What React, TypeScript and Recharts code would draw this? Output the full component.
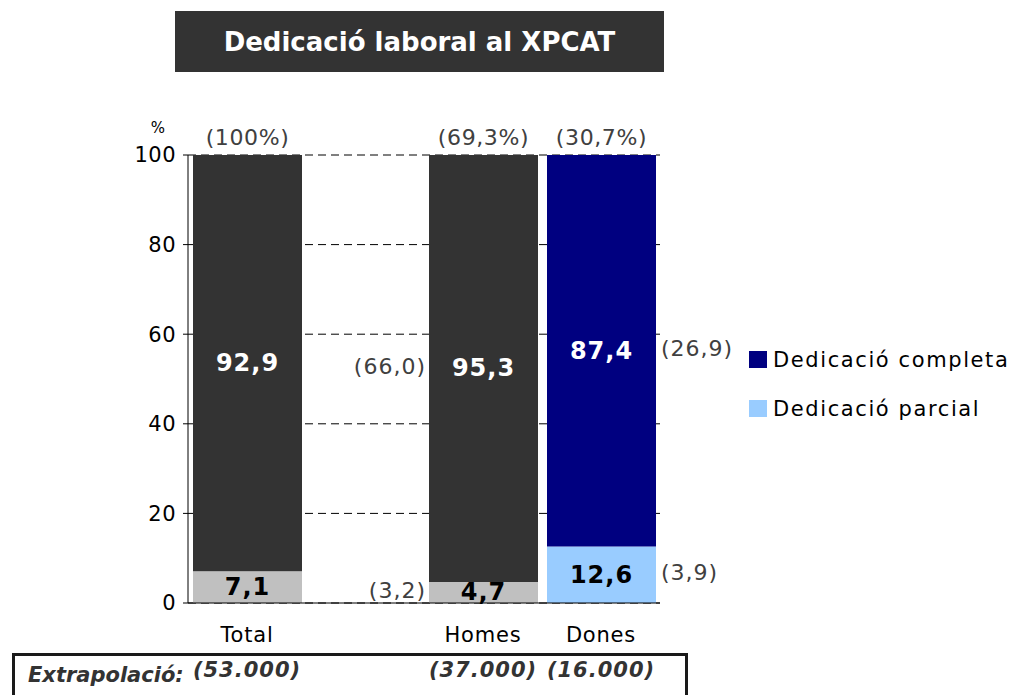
import { BarChart, Bar, XAxis, YAxis, CartesianGrid, LabelList, Cell } from "recharts";

// categories (the empty one is the gap between Total and Homes)
const categories = ["Total", "", "Homes", "Dones"];
const completa = [92.9, null, 95.3, 87.4];
const parcial = [7.1, null, 4.7, 12.6];
const shareLabels = ["(100%)", "", "(69,3%)", "(30,7%)"];
const completaCounts = ["", "", "(66,0)", "(26,9)"];
const parcialCounts = ["", "", "(3,2)", "(3,9)"];
const extrapolacio = ["(53.000)", "", "(37.000)", "(16.000)"];
const yTicks = [0, 20, 40, 60, 80, 100];

const completaColors = ["#333333", "#333333", "#333333", "#000080"];
const parcialColors = ["#c0c0c0", "#c0c0c0", "#c0c0c0", "#99ccff"];

const series = [
  { key: "completa", name: "Dedicació completa", color: "#000080" },
  { key: "parcial", name: "Dedicació parcial", color: "#99ccff" },
];

const data = categories.map((name, i) => ({
  name,
  completa: completa[i],
  parcial: parcial[i],
}));

const FONT = "'DejaVu Sans', Verdana, sans-serif";
const fmt = (v: number) => v.toFixed(1).replace(".", ",");

const makeLabel =
  (values: (number | null)[], counts: string[], textFill: string, withShare: boolean) =>
  (props: any) => {
    const vb = props.viewBox ?? props;
    const x = vb.x ?? props.x;
    const y = vb.y ?? props.y;
    const width = vb.width ?? props.width;
    const height = vb.height ?? props.height;
    // label index skips the empty category, so find the row by its value
    const raw = Array.isArray(props.value) ? props.value[1] - props.value[0] : Number(props.value);
    let index = values.findIndex((v) => v != null && Math.abs(v - raw) < 1e-6);
    if (index < 0) index = props.index;
    const v = values[index];
    if (v == null) return null;
    const cx = x + width / 2;
    const cy = y + height / 2;
    const right = index === categories.length - 1;
    return (
      <g>
        <text
          x={cx}
          y={cy}
          textAnchor="middle"
          dominantBaseline="central"
          fill={textFill}
          fontWeight="bold"
          fontSize={24}
          style={{ letterSpacing: 1 }}
        >
          {fmt(v)}
        </text>
        {counts[index] && (
          <text
            x={right ? x + width + 5 : x - 3}
            y={cy - 2}
            textAnchor={right ? "start" : "end"}
            dominantBaseline="central"
            fill="#404040"
            fontSize={22}
            style={{ letterSpacing: 1 }}
          >
            {counts[index]}
          </text>
        )}
        {withShare && shareLabels[index] && (
          <text
            x={cx}
            y={y - 10}
            textAnchor="middle"
            fill="#404040"
            fontSize={22}
            style={{ letterSpacing: 0.6 }}
          >
            {shareLabels[index]}
          </text>
        )}
      </g>
    );
  };

export default function App() {
  return (
    <div style={{ position: "absolute", left: 0, top: 0, width: 1012, height: 695, overflow: "hidden", fontFamily: FONT, background: "#fff" }}>
      {/* title box */}
      <div
        style={{
          position: "absolute",
          left: 175,
          top: 11,
          width: 489,
          height: 61,
          background: "#333333",
          color: "#fff",
          fontWeight: "bold",
          fontSize: 26,
          display: "flex",
          alignItems: "center",
          justifyContent: "center",
        }}
      >
        Dedicació laboral al XPCAT
      </div>

      {/* extrapolation box */}
      <div
        style={{
          position: "absolute",
          left: 12,
          top: 653,
          width: 670,
          height: 60,
          border: "3px solid #1a1a1a",
        }}
      >
        <span
          style={{
            position: "absolute",
            left: 13,
            top: 7,
            fontSize: 21,
            fontWeight: "bold",
            fontStyle: "italic",
            color: "#333",
          }}
        >
          Extrapolació:
        </span>
      </div>

      <div style={{ position: "absolute", left: 0, top: 0 }}>
        <BarChart
          width={1012}
          height={695}
          data={data}
          margin={{ top: 155, right: 352, bottom: 0, left: 128 }}
          barSize={109}
        >
          <CartesianGrid vertical={false} stroke="#000" strokeDasharray="8 5" />
          <XAxis
            dataKey="name"
            height={50}
            interval={0}
            tickLine={false}
            tickSize={0}
            tickMargin={24}
            axisLine={{ stroke: "#000" }}
            tick={{ fill: "#000", fontSize: 21, style: { letterSpacing: 0.8 } }}
          />
          <XAxis
            xAxisId="ext"
            dataKey="name"
            height={42}
            interval={0}
            axisLine={false}
            tickLine={false}
            tickSize={0}
            tickMargin={9}
            tickFormatter={(_v: any, i: number) => extrapolacio[i]}
            tick={{ fill: "#333", fontSize: 21, fontWeight: "bold", fontStyle: "italic", style: { letterSpacing: 1 } }}
          />
          <YAxis
            width={60}
            domain={[0, 100]}
            ticks={yTicks}
            interval={0}
            tickSize={5}
            tickMargin={7}
            axisLine={{ stroke: "#000" }}
            tickLine={{ stroke: "#000" }}
            tick={{ fill: "#000", fontSize: 21, style: { letterSpacing: 0.5 } }}
            label={{ value: "%", position: "top", offset: 22, fontSize: 15, fill: "#000" }}
          />
          <Bar dataKey="parcial" name={series[1].name} stackId="a" fill={series[1].color} isAnimationActive={false}>
            {data.map((_d, i) => (
              <Cell key={i} fill={parcialColors[i]} />
            ))}
            <LabelList dataKey="parcial" content={makeLabel(parcial, parcialCounts, "#000", false)} />
          </Bar>
          <Bar dataKey="completa" name={series[0].name} stackId="a" fill={series[0].color} isAnimationActive={false}>
            {data.map((_d, i) => (
              <Cell key={i} fill={completaColors[i]} />
            ))}
            <LabelList dataKey="completa" content={makeLabel(completa, completaCounts, "#fff", true)} />
          </Bar>
        </BarChart>
      </div>

      {/* legend */}
      <div style={{ position: "absolute", left: 749, top: 335 }}>
        {series.map((s) => (
          <div key={s.key} style={{ display: "flex", alignItems: "center", height: 49 }}>
            <span style={{ display: "inline-block", width: 18, height: 17, background: s.color, marginRight: 6 }} />
            <span style={{ fontSize: 21, color: "#000", letterSpacing: 1.6 }}>{s.name}</span>
          </div>
        ))}
      </div>
    </div>
  );
}
